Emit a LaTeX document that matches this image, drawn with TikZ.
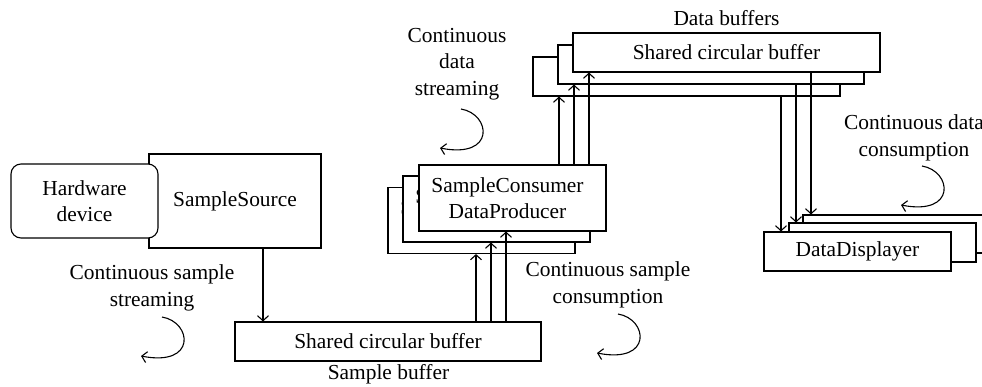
\documentclass[tikz,border=0pt]{standalone}
\usepackage{fontspec}
\setmainfont{Liberation Serif}
\usetikzlibrary{arrows.meta}
\begin{document}
\begin{tikzpicture}[x=1pt,y=-1pt, line width=1.1pt,
  font=\fontsize{21.4}{26.5}\selectfont,
  box/.style={draw, fill=white, inner sep=0pt, align=center},
  lbl/.style={align=center, inner sep=0pt},
  arr/.style={-{Straight Barb[length=5pt,width=11pt]}},
  pics/curlarrow/.style={code={\draw[arr] (0,0) .. controls (30,5) and (35,50) .. (-21,39);}}]
\clip (0,0) rectangle (982,386);
% sample source and hardware
\node[box, minimum width=172pt, minimum height=94pt] (src) at (235,201) {SampleSource};
\node[box, rounded corners=10pt, minimum width=147pt, minimum height=74pt] (hw) at (84.5,201) {Hardware\\device};
% sample buffer
\node[box, minimum width=306pt, minimum height=39pt] (sbuf) at (388,341.5) {Shared circular buffer};
\node[lbl] (sbl) at (388.5,374) {Sample buffer};
% consumer stack
\node[box, minimum width=187pt, minimum height=66pt] (c3) at (481.5,220.5) {\hspace*{-10pt}SampleConsumer\\\hspace*{-10pt}DataProducer};
\node[box, minimum width=187pt, minimum height=66pt] (c2) at (496.5,209) {\hspace*{-10pt}SampleConsumer\\\hspace*{-10pt}DataProducer};
\node[box, minimum width=187pt, minimum height=66pt] (c1) at (512.5,198) {\hspace*{-10pt}SampleConsumer\\\hspace*{-10pt}DataProducer};
% data buffers stack
\node[box, minimum width=307pt, minimum height=39pt] (d3) at (686.5,76.5) {Shared circular buffer};
\node[box, minimum width=306pt, minimum height=39pt] (d2) at (711,64.5) {Shared circular buffer};
\node[box, minimum width=307pt, minimum height=39pt] (d1) at (726.5,52.5) {Shared circular buffer};
\node[lbl] (dbl) at (726.5,18) {Data buffers};
% displayer stack
\node[box, minimum width=187pt, minimum height=38pt] (p3) at (896.5,234) {};
\node[box, minimum width=187pt, minimum height=39pt] (p2) at (882.5,242.5) {};
\node[box, minimum width=187pt, minimum height=39pt] (p1) at (857.5,251.5) {DataDisplayer};
% labels
\node[lbl] (t1) at (152,288) {Continuous sample\\streaming};
\node[lbl] (t2) at (457,64) {Continuous\\data\\streaming};
\node[lbl] (t3) at (608,285) {Continuous sample\\consumption};
\node[lbl] (t4) at (914,138) {Continuous data\\consumption};
% curl arrows
\pic at (162,317) {curlarrow};
\pic at (461,109) {curlarrow};
\pic at (618,314) {curlarrow};
\pic at (922,166) {curlarrow};
% x positions of connectors
\coordinate (xa) at (263,0);
\coordinate (xb1) at (476,0);
\coordinate (xb2) at (491,0);
\coordinate (xb3) at (506,0);
\coordinate (xc1) at (559,0);
\coordinate (xc2) at (574,0);
\coordinate (xc3) at (589,0);
\coordinate (xd1) at (781,0);
\coordinate (xd2) at (796,0);
\coordinate (xd3) at (811,0);
% connectors
\draw[arr] (src.south -| xa) -- (sbuf.north -| xa);
\draw[arr] (sbuf.north -| xb1) -- (c3.south -| xb1);
\draw[arr] (sbuf.north -| xb2) -- (c2.south -| xb2);
\draw[arr] (sbuf.north -| xb3) -- (c1.south -| xb3);
\draw[arr] (c1.north -| xc1) -- (d3.south -| xc1);
\draw[arr] (c1.north -| xc2) -- (d2.south -| xc2);
\draw[arr] (c1.north -| xc3) -- (d1.south -| xc3);
\draw[arr] (d3.south -| xd1) -- (p1.north -| xd1);
\draw[arr] (d2.south -| xd2) -- (p2.north -| xd2);
\draw[arr] (d1.south -| xd3) -- (p3.north -| xd3);
\end{tikzpicture}
\end{document}
